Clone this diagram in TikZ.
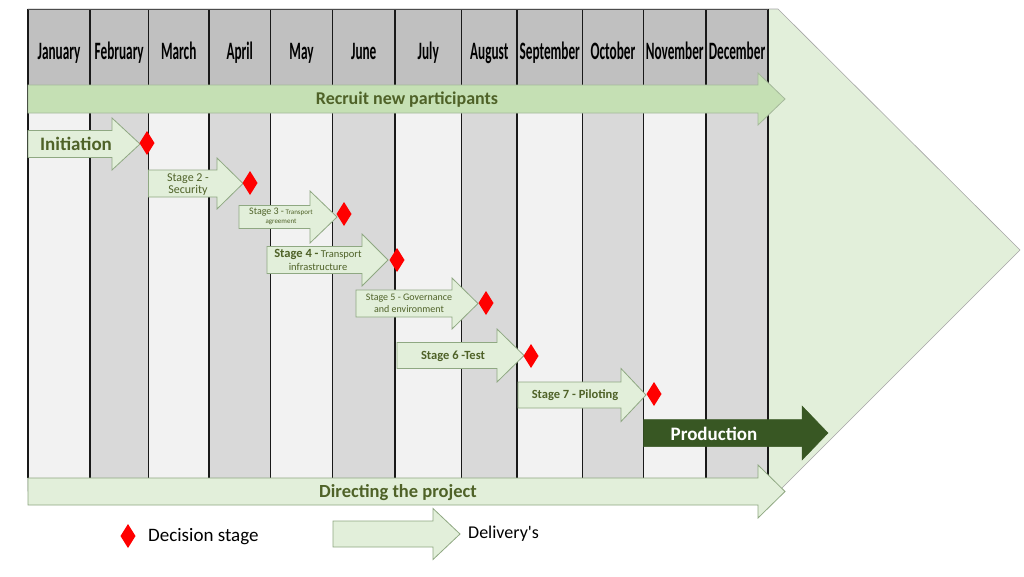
\documentclass[tikz,border=0pt]{standalone}
\usepackage{graphicx}
\usepackage{fontspec}
\setmainfont{Carlito}
\newfontfamily\plainquote{Carlito}[Ligatures=TeXOff]
\definecolor{hdrgray}{HTML}{C0C0C0}
\definecolor{colLight}{HTML}{F2F2F2}
\definecolor{colDark}{HTML}{D9D9D9}
\definecolor{paleGreen}{HTML}{E2EFDA}
\definecolor{midGreen}{HTML}{C5E0B4}
\definecolor{edgeGreen}{HTML}{8FA882}
\definecolor{txtGreen}{HTML}{4F6228}
\definecolor{prodGreen}{HTML}{385723}
\definecolor{decRed}{HTML}{FF0000}
% arrow polygon: [style]{x0}{shaft end}{tip}{y centre}{body half}{head half}
\newcommand{\ArrowShape}[7][]{%
  \draw[#1] (#2,#5-#6) -- (#3,#5-#6) -- (#3,#5-#7) -- (#4,#5) -- (#3,#5+#7)
    -- (#3,#5+#6) -- (#2,#5+#6) -- cycle;}
\newcommand{\DecDiamond}[2]{%
  \fill[decRed] (#1-7.5,#2) -- (#1,#2-12) -- (#1+7.5,#2) -- (#1,#2+12) -- cycle;}
\begin{document}
\begin{tikzpicture}[x=1pt,y=-1pt,
  gridline/.style={line width=1.4pt,draw=black!90},
  mon/.style={anchor=base,inner sep=0pt,font=\fontsize{25}{25}\selectfont\bfseries},
  stagearrow/.style={fill=paleGreen,draw=edgeGreen,line width=0.8pt},
  bigbar/.style={fill=midGreen,draw=edgeGreen!80,line width=0.8pt},
  dirbar/.style={fill=paleGreen,draw=edgeGreen,line width=0.8pt},
  prodarrow/.style={fill=prodGreen,draw=prodGreen,line width=0.5pt},
  gtext/.style={anchor=base,inner sep=0pt,text=txtGreen,align=center},
  ltext/.style={anchor=base west,inner sep=0pt,text=black,font=\fontsize{19}{19}\selectfont}]
\useasboundingbox (0,0) rectangle (1024,576);
\fill[white] (0,0) rectangle (1024,576);
% big chevron behind
\draw[fill=paleGreen,draw=black!35,line width=0.6pt]
  (28,9) -- (778,9) -- (1020,250) -- (779,491) -- (28,491) -- cycle;
% header
\fill[hdrgray] (28,9) rectangle (768,85);
% body columns
\foreach \a/\b/\c in {28/90/colLight,90/148.5/colDark,148.5/209/colLight,209/270.5/colDark,
  270.5/332.5/colLight,332.5/395/colDark,395/461.5/colLight,461.5/517/colDark,
  517/582.5/colLight,582.5/643.5/colDark,643.5/706/colLight,706/768/colDark}
  \fill[\c] (\a,85) rectangle (\b,478);
\foreach \x in {28,90,148.5,209,270.5,332.5,395,461.5,517,582.5,643.5,706,768}
  \draw[gridline] (\x,9) -- (\x,478);
\draw[line width=0.8pt,draw=black!70] (28,9) -- (768,9);
\draw[line width=0.8pt,draw=black!70] (28,478) -- (768,478);
% month labels
\node[mon] (m1) at (59,59) {\scalebox{0.53}[1]{January}};
\node[mon] (m2) at (119.25,59) {\scalebox{0.53}[1]{February}};
\node[mon] (m3) at (178.75,59) {\scalebox{0.53}[1]{March}};
\node[mon] (m4) at (239.75,59) {\scalebox{0.53}[1]{April}};
\node[mon] (m5) at (301.5,59) {\scalebox{0.53}[1]{May}};
\node[mon] (m6) at (363.75,59) {\scalebox{0.53}[1]{June}};
\node[mon] (m7) at (428.25,59) {\scalebox{0.53}[1]{July}};
\node[mon] (m8) at (489.25,59) {\scalebox{0.53}[1]{August}};
\node[mon] (m9) at (549.75,59) {\scalebox{0.53}[1]{September}};
\node[mon] (m10) at (613,59) {\scalebox{0.53}[1]{October}};
\node[mon] (m11) at (674.75,59) {\scalebox{0.53}[1]{November}};
\node[mon] (m12) at (737,59) {\scalebox{0.53}[1]{December}};
% recruit bar
\ArrowShape[bigbar]{28}{758}{785}{99}{14}{26}
\node[gtext,font=\fontsize{18}{18}\selectfont\bfseries] (recruit) at (407,104) {Recruit new participants};
% stage arrows
\ArrowShape[stagearrow]{28}{112}{140}{144}{13.5}{26}
\node[gtext,font=\fontsize{19}{19}\selectfont\bfseries] (init) at (76,150) {Initiation};
\ArrowShape[stagearrow]{148.5}{217}{243}{183.5}{13.5}{25.5}
\node[gtext,font=\fontsize{12}{12.5}\selectfont] (s2) at (188,193.5) {Stage 2 -\\Security};
\ArrowShape[stagearrow]{239}{310}{337}{217}{11.5}{26}
\node[gtext,font=\fontsize{7}{9}\selectfont] (s3) at (281,223) {{\fontsize{10}{10}\selectfont Stage 3 -} Transport\\agreement};
\ArrowShape[stagearrow]{267}{362}{388}{260}{13.5}{26}
\node[gtext,font=\fontsize{10.5}{12.5}\selectfont] (s4) at (318,270) {{\fontsize{12.5}{12.5}\selectfont\bfseries Stage 4 -} Transport\\infrastructure};
\ArrowShape[stagearrow]{356}{452}{478}{303.5}{13.5}{25.5}
\node[gtext,font=\fontsize{10}{11.5}\selectfont] (s5) at (409,312) {Stage 5 - Governance\\and environment};
\ArrowShape[stagearrow]{397}{497}{524}{355.5}{13}{26.5}
\node[gtext,font=\fontsize{12.5}{12.5}\selectfont\bfseries] (s6) at (453,359) {Stage 6 -Test};
\ArrowShape[stagearrow]{518}{621}{646}{395}{13}{26.5}
\node[gtext,font=\fontsize{12.5}{12.5}\selectfont\bfseries] (s7) at (575,398) {Stage 7 - Piloting};
% decision diamonds
\DecDiamond{147}{143}
\DecDiamond{250}{183}
\DecDiamond{344}{214}
\DecDiamond{397}{260}
\DecDiamond{486}{303}
\DecDiamond{531}{356}
\DecDiamond{654}{394}
% production
\ArrowShape[prodarrow]{643.5}{802}{828}{433}{13.5}{27}
\node[gtext,text=white,font=\fontsize{19}{19}\selectfont\bfseries] (prod) at (714,440) {Production};
% directing bar
\ArrowShape[dirbar]{28}{758}{785}{491.5}{13.5}{26.5}
\node[gtext,font=\fontsize{18.5}{18.5}\selectfont\bfseries] (dir) at (398,497) {Directing the project};
% legend
\DecDiamond{128}{536}
\node[ltext] (legdec) at (148,541) {Decision stage};
\ArrowShape[stagearrow]{333}{433}{460}{534}{13}{25.5}
\node[ltext,font=\fontsize{18}{18}\plainquote] (legdel) at (468,538) {Delivery's};
\end{tikzpicture}
\end{document}
